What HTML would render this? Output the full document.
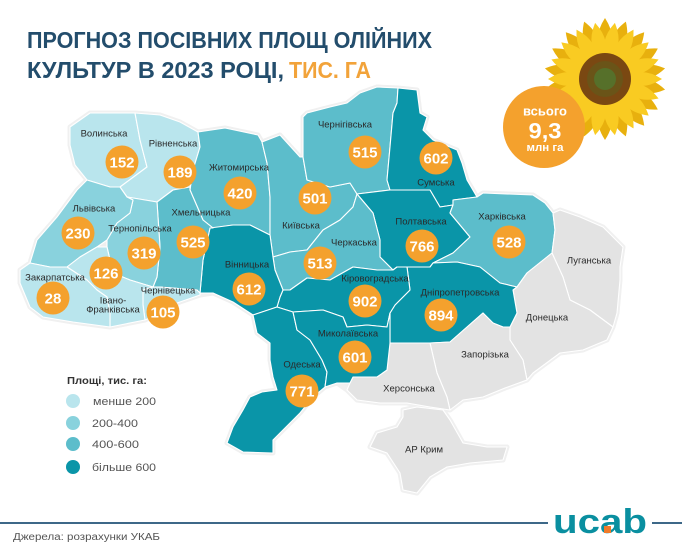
<!DOCTYPE html>
<html><head><meta charset="utf-8"><style>
html,body{margin:0;padding:0;background:#fff;}
svg{display:block;}
text{font-family:"Liberation Sans",sans-serif;}
.lb{font-size:9.5px;fill:#2a2a2a;text-anchor:middle;}
.nm{font-size:15px;font-weight:bold;fill:#fff;text-anchor:middle;}
.c{fill:#f4a12d;}
.l1{fill:#b9e5ed;}.l2{fill:#89d2dd;}.l3{fill:#5cbdcb;}.l4{fill:#0a95a8;}.gr{fill:#e3e3e3;}
#regs polygon{stroke:#fff;stroke-width:1.1;stroke-linejoin:round;}
#halo polygon{fill:#efefef;stroke:#f0f0f0;stroke-width:5;stroke-linejoin:round;}
</style></head><body>
<svg width="682" height="547" viewBox="0 0 682 547" xmlns="http://www.w3.org/2000/svg">
<defs>
<path id="pb" d="M0,-18 Q15,-38 0,-61 Q-15,-38 0,-18Z"/>
<path id="pf" d="M0,-18 Q14,-35 0,-57 Q-14,-35 0,-18Z"/>
</defs>
<rect width="682" height="547" fill="#fff"/>
<!-- title -->
<text x="27" y="48" font-size="23.5" font-weight="bold" fill="#234d6c" textLength="405" lengthAdjust="spacingAndGlyphs">ПРОГНОЗ ПОСІВНИХ ПЛОЩ ОЛІЙНИХ</text>
<text x="27" y="78" font-size="23.5" font-weight="bold" fill="#234d6c" textLength="257" lengthAdjust="spacingAndGlyphs">КУЛЬТУР В 2023 РОЦІ,</text>
<text x="289" y="78" font-size="23.5" font-weight="bold" fill="#f2a33a" textLength="82" lengthAdjust="spacingAndGlyphs">ТИС. ГА</text>

<!-- sunflower -->
<g transform="translate(605,79)">
<g fill="#e8b00e">
<use href="#pb" transform="rotate(0)"/><use href="#pb" transform="rotate(20)"/><use href="#pb" transform="rotate(40)"/><use href="#pb" transform="rotate(60)"/><use href="#pb" transform="rotate(80)"/><use href="#pb" transform="rotate(100)"/><use href="#pb" transform="rotate(120)"/><use href="#pb" transform="rotate(140)"/><use href="#pb" transform="rotate(160)"/><use href="#pb" transform="rotate(180)"/><use href="#pb" transform="rotate(200)"/><use href="#pb" transform="rotate(220)"/><use href="#pb" transform="rotate(240)"/><use href="#pb" transform="rotate(260)"/><use href="#pb" transform="rotate(280)"/><use href="#pb" transform="rotate(300)"/><use href="#pb" transform="rotate(320)"/><use href="#pb" transform="rotate(340)"/>
</g>
<g fill="#f9cb22">
<use href="#pf" transform="rotate(10)"/><use href="#pf" transform="rotate(30)"/><use href="#pf" transform="rotate(50)"/><use href="#pf" transform="rotate(70)"/><use href="#pf" transform="rotate(90)"/><use href="#pf" transform="rotate(110)"/><use href="#pf" transform="rotate(130)"/><use href="#pf" transform="rotate(150)"/><use href="#pf" transform="rotate(170)"/><use href="#pf" transform="rotate(190)"/><use href="#pf" transform="rotate(210)"/><use href="#pf" transform="rotate(230)"/><use href="#pf" transform="rotate(250)"/><use href="#pf" transform="rotate(270)"/><use href="#pf" transform="rotate(290)"/><use href="#pf" transform="rotate(310)"/><use href="#pf" transform="rotate(330)"/><use href="#pf" transform="rotate(350)"/>
</g>
<circle r="26" fill="#7a4812"/>
<circle r="18" fill="#6a5418"/>
<circle r="11" fill="#56702a"/>
</g>
<!-- total circle -->
<circle cx="544" cy="127" r="41" class="c"/>
<text x="545" y="115.5" font-size="12.5" font-weight="bold" fill="#fff" text-anchor="middle" textLength="44" lengthAdjust="spacingAndGlyphs">всього</text>
<text x="545" y="138.5" font-size="22" font-weight="bold" fill="#fff" text-anchor="middle" textLength="33" lengthAdjust="spacingAndGlyphs">9,3</text>
<text x="545" y="151" font-size="11" font-weight="bold" fill="#fff" text-anchor="middle" textLength="37" lengthAdjust="spacingAndGlyphs">млн га</text>

<!-- map halo -->
<g id="halo">
<polygon points="70,127 90,113 135,113 160,115 180,122 198,132 225,128 258,135 262,142 280,135 300,157 303,157 303,117 307,113 330,107 347,103 360,93 377,87 398,88 417,90 420,113 427,117 423,130 433,140 457,150 462,163 467,180 477,197 483,193 533,195 545,203 553,213 560,210 580,217 603,227 623,247 620,267 620,280 617,313 613,327 607,340 583,350 560,353 533,373 527,380 505,388 483,397 463,400 450,410 430,407 407,403 380,403 357,400 347,390 337,383 325,387 313,397 300,413 290,423 280,433 273,440 273,453 243,452 227,443 233,427 243,410 250,397 262,392 277,390 273,377 270,360 270,343 257,333 253,315 233,302 213,293 200,295 177,303 160,313 145,320 120,325 110,327 73,322 43,317 30,307 20,283 20,270 30,263 37,240 57,217 77,190 87,180 75,165 70,145"/>
<polygon points="403,410 417,407 443,410 450,420 463,443 487,447 507,447 503,460 470,463 447,467 430,477 417,493 403,490 400,473 387,453 370,447 377,433 397,427 403,417"/>
</g>

<g id="regs">
<polygon class="l1" points="70,127 90,113 135,113 140,140 147,167 120,187 110,187 87,180 75,165 70,145"/>
<polygon class="l1" points="135,113 160,115 180,122 198,132 200,147 193,170 190,187 173,190 157,202 127,197 120,187 147,167 140,140"/>
<polygon class="l3" points="198,132 225,128 258,135 262,142 267,163 270,197 270,235 250,225 233,225 213,228 203,220 190,190 193,170 200,147"/>
<polygon class="l3" points="262,142 280,135 300,157 303,157 307,180 330,187 350,183 357,194 353,207 340,220 323,230 307,250 290,252 273,257 270,235 270,197 267,163"/>
<polygon class="l3" points="303,117 307,113 330,107 347,103 360,93 377,87 398,88 397,103 393,113 390,147 387,180 390,190 357,194 350,183 330,187 307,180 303,157"/>
<polygon class="l4" points="398,88 417,90 420,113 427,117 423,130 433,140 457,150 462,163 467,180 477,197 453,200 453,205 440,207 430,190 390,190 387,180 390,147 393,113 397,103"/>
<polygon class="l4" points="357,194 390,190 430,190 440,207 453,205 450,213 470,237 453,253 433,263 430,267 407,267 397,267 393,270 380,257 380,240 373,213"/>
<polygon class="l3" points="453,200 477,197 483,193 533,195 545,203 553,213 555,230 552,253 547,257 527,273 517,287 500,283 480,267 457,262 433,263 453,253 470,237 450,213 453,205"/>
<polygon class="gr" points="553,213 560,210 580,217 603,227 623,247 620,267 620,280 617,313 613,327 590,310 570,300 563,277 552,253 555,230"/>
<polygon class="gr" points="517,287 527,273 547,257 552,253 563,277 570,300 590,310 613,327 607,340 583,350 560,353 533,373 527,380 523,360 510,340 510,327 517,313 513,290"/>
<polygon class="l4" points="407,267 430,267 433,263 457,262 480,267 500,283 517,287 513,290 517,313 510,327 503,327 493,323 483,313 450,342 430,343 390,343 390,313 395,305 410,290"/>
<polygon class="gr" points="430,343 450,342 483,313 493,323 503,327 510,327 510,340 523,360 527,380 505,388 483,397 463,400 450,410 447,397 437,373"/>
<polygon class="gr" points="390,343 430,343 437,373 447,397 450,410 430,407 407,403 380,403 357,400 347,390 350,383 353,377 377,377 387,370"/>
<polygon class="gr" points="403,410 417,407 443,410 450,420 463,443 487,447 507,447 503,460 470,463 447,467 430,477 417,493 403,490 400,473 387,453 370,447 377,433 397,427 403,417"/>
<polygon class="l3" points="273,257 290,252 307,250 323,230 340,220 353,207 357,194 373,213 380,240 380,257 393,270 377,270 353,267 330,280 307,278 290,290 283,290 275,270"/>
<polygon class="l4" points="280,297 283,290 290,290 307,278 330,280 353,267 377,270 393,270 397,267 407,267 410,290 395,305 390,313 387,327 367,325 347,327 343,317 323,310 293,312 277,307"/>
<polygon class="l4" points="210,228 233,225 250,225 270,235 273,257 275,270 283,290 280,297 277,307 253,315 233,302 213,293 200,293 203,260"/>
<polygon class="l4" points="253,315 277,307 293,312 297,330 310,340 322,360 327,372 325,387 313,397 300,413 290,423 280,433 273,440 273,453 243,452 227,443 233,427 243,410 250,397 262,392 277,390 273,377 270,360 270,343 257,333"/>
<polygon class="l4" points="293,312 323,310 343,317 347,327 367,325 387,327 390,313 390,343 387,370 377,377 353,377 350,383 337,383 325,387 327,372 322,360 310,340 297,330"/>
<polygon class="l3" points="157,202 173,190 190,187 190,190 203,220 213,228 210,228 203,260 200,293 197,290 160,287 153,287 157,277 160,247"/>
<polygon class="l2" points="127,197 157,202 160,247 157,277 153,287 130,280 113,273 107,247 107,240 117,223 130,213 133,200"/>
<polygon class="l2" points="87,180 110,187 120,187 127,197 133,200 130,213 117,223 107,240 97,247 80,257 67,267 50,267 30,263 37,240 57,217 77,190"/>
<polygon class="l1" points="153,287 160,287 197,290 200,293 200,295 177,303 160,313 145,320 143,305 143,290"/>
<polygon class="l1" points="67,267 80,257 97,247 107,247 113,273 130,280 153,287 143,290 143,305 145,320 120,325 110,327 110,313 107,297 97,290 87,280"/>
<polygon class="l1" points="20,270 30,263 50,267 67,267 87,280 97,290 107,297 110,313 110,327 73,322 43,317 30,307 20,283"/>
</g>

<!-- region labels -->
<text class="lb" x="104" y="136.5">Волинська</text>
<text class="lb" x="173" y="146.5">Рівненська</text>
<text class="lb" x="239" y="170.5">Житомирська</text>
<text class="lb" x="94" y="211.5">Львівська</text>
<text class="lb" x="201" y="215.5">Хмельницька</text>
<text class="lb" x="140" y="231.5">Тернопільська</text>
<text class="lb" x="301" y="228.5">Київська</text>
<text class="lb" x="247" y="267.5">Вінницька</text>
<text class="lb" x="55" y="280.5">Закарпатська</text>
<text class="lb" x="168" y="293.5">Чернівецька</text>
<text class="lb" x="113" y="303.5">Івано-</text>
<text class="lb" x="113" y="312.5">Франківська</text>
<text class="lb" x="345" y="127.5">Чернігівська</text>
<text class="lb" x="436" y="185.5">Сумська</text>
<text class="lb" x="421" y="224.5">Полтавська</text>
<text class="lb" x="502" y="219.5">Харківська</text>
<text class="lb" x="354" y="245.5">Черкаська</text>
<text class="lb" x="589" y="263.5">Луганська</text>
<text class="lb" x="375" y="281.5">Кіровоградська</text>
<text class="lb" x="460" y="295.5">Дніпропетровська</text>
<text class="lb" x="547" y="320.5">Донецька</text>
<text class="lb" x="348" y="336.5">Миколаївська</text>
<text class="lb" x="485" y="357.5">Запорізька</text>
<text class="lb" x="302" y="367.5">Одеська</text>
<text class="lb" x="409" y="391.5">Херсонська</text>
<text class="lb" x="424" y="452.5">АР Крим</text>

<!-- value circles -->
<g>
<circle class="c" cx="122" cy="162" r="16.5"/><text class="nm" x="122" y="167.5">152</text>
<circle class="c" cx="180" cy="172" r="16.5"/><text class="nm" x="180" y="177.5">189</text>
<circle class="c" cx="240" cy="193" r="16.5"/><text class="nm" x="240" y="198.5">420</text>
<circle class="c" cx="315" cy="198" r="16.5"/><text class="nm" x="315" y="203.5">501</text>
<circle class="c" cx="78" cy="233" r="16.5"/><text class="nm" x="78" y="238.5">230</text>
<circle class="c" cx="144" cy="253" r="16.5"/><text class="nm" x="144" y="258.5">319</text>
<circle class="c" cx="193" cy="242" r="16.5"/><text class="nm" x="193" y="247.5">525</text>
<circle class="c" cx="106" cy="273" r="16.5"/><text class="nm" x="106" y="278.5">126</text>
<circle class="c" cx="53" cy="298" r="16.5"/><text class="nm" x="53" y="303.5">28</text>
<circle class="c" cx="163" cy="312" r="16.5"/><text class="nm" x="163" y="317.5">105</text>
<circle class="c" cx="249" cy="289" r="16.5"/><text class="nm" x="249" y="294.5">612</text>
<circle class="c" cx="320" cy="263" r="16.5"/><text class="nm" x="320" y="268.5">513</text>
<circle class="c" cx="365" cy="152" r="16.5"/><text class="nm" x="365" y="157.5">515</text>
<circle class="c" cx="436" cy="158" r="16.5"/><text class="nm" x="436" y="163.5">602</text>
<circle class="c" cx="422" cy="246" r="16.5"/><text class="nm" x="422" y="251.5">766</text>
<circle class="c" cx="509" cy="242" r="16.5"/><text class="nm" x="509" y="247.5">528</text>
<circle class="c" cx="365" cy="301" r="16.5"/><text class="nm" x="365" y="306.5">902</text>
<circle class="c" cx="441" cy="315" r="16.5"/><text class="nm" x="441" y="320.5">894</text>
<circle class="c" cx="355" cy="357" r="16.5"/><text class="nm" x="355" y="362.5">601</text>
<circle class="c" cx="302" cy="391" r="16.5"/><text class="nm" x="302" y="396.5">771</text>
</g>

<!-- legend -->
<text x="67" y="384" font-size="10" font-weight="bold" fill="#333" textLength="80" lengthAdjust="spacingAndGlyphs">Площі, тис. га:</text>
<circle cx="73" cy="401" r="7" class="l1"/>
<circle cx="73" cy="423" r="7" class="l2"/>
<circle cx="73" cy="444" r="7" class="l3"/>
<circle cx="73" cy="467" r="7" class="l4"/>
<text x="93" y="405" font-size="11" fill="#555" textLength="63" lengthAdjust="spacingAndGlyphs">менше 200</text>
<text x="92" y="427" font-size="11" fill="#555" textLength="46" lengthAdjust="spacingAndGlyphs">200-400</text>
<text x="92" y="448" font-size="11" fill="#555" textLength="47" lengthAdjust="spacingAndGlyphs">400-600</text>
<text x="92" y="471" font-size="11" fill="#555" textLength="64" lengthAdjust="spacingAndGlyphs">більше 600</text>

<!-- footer -->
<rect x="0" y="522" width="548" height="2" fill="#3d6888"/>
<rect x="652" y="522" width="30" height="2" fill="#3d6888"/>
<text x="553" y="533" font-size="34" font-weight="bold" fill="#0a8fa0" textLength="94" lengthAdjust="spacingAndGlyphs">ucab</text>
<rect x="604" y="526" width="7" height="7" fill="#f07a2a"/>
<text x="13" y="540" font-size="10" fill="#555" textLength="147" lengthAdjust="spacingAndGlyphs">Джерела: розрахунки УКАБ</text>
</svg>
</body></html>
